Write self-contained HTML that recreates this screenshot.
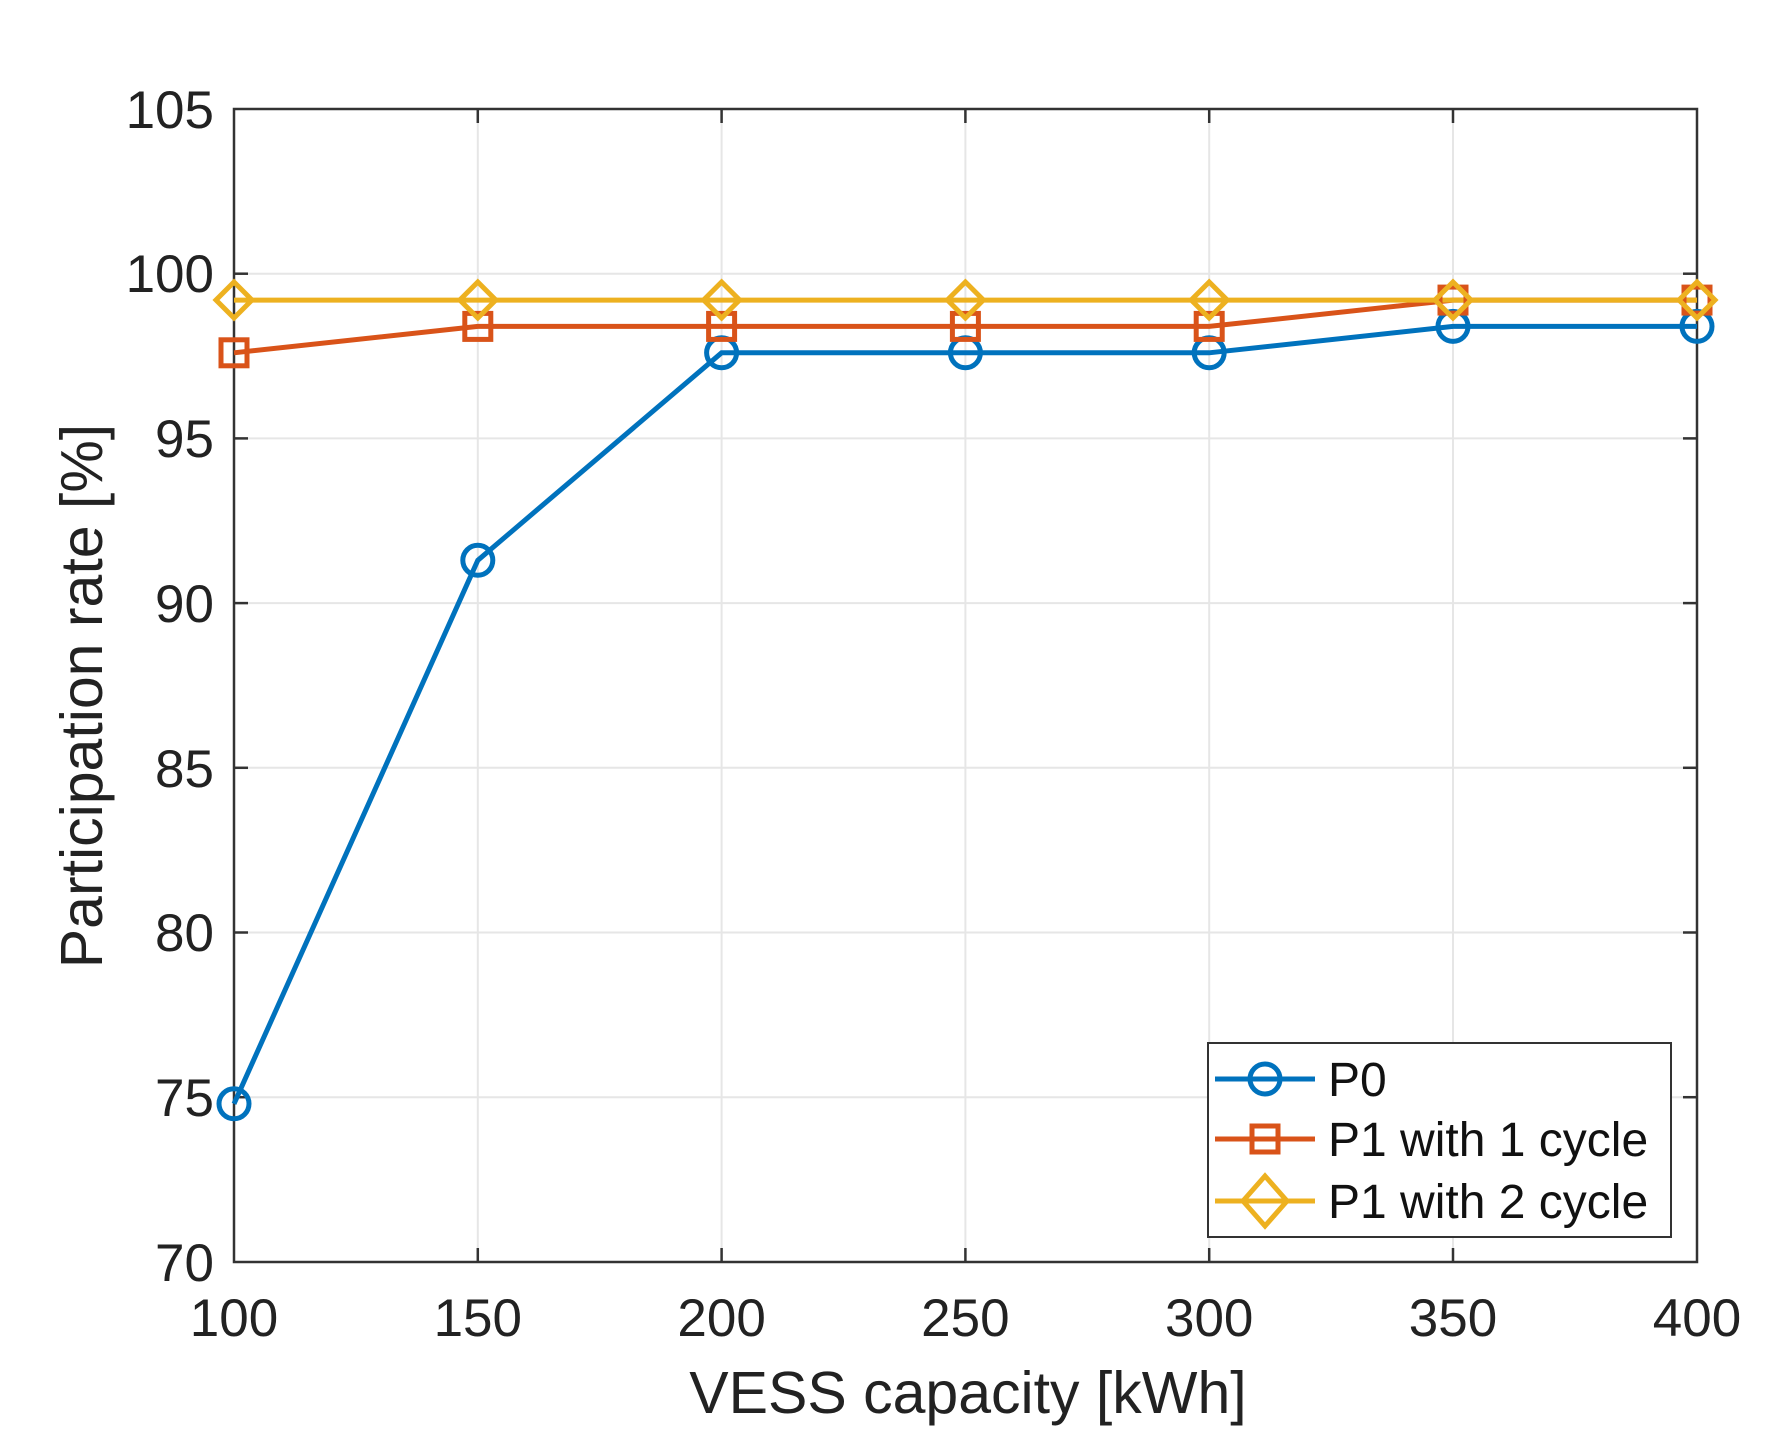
<!DOCTYPE html>
<html><head><meta charset="utf-8"><style>html,body{margin:0;padding:0;background:#fff}svg{display:block}</style></head>
<body>
<svg width="1780" height="1452" viewBox="0 0 1780 1452" xmlns="http://www.w3.org/2000/svg" font-family="Liberation Sans, Arial, sans-serif">
<rect width="1780" height="1452" fill="#fff"/>
<g stroke="#e6e6e6" stroke-width="2">
<line x1="477.8" y1="109" x2="477.8" y2="1262"/><line x1="721.6" y1="109" x2="721.6" y2="1262"/><line x1="965.4" y1="109" x2="965.4" y2="1262"/><line x1="1209.2" y1="109" x2="1209.2" y2="1262"/><line x1="1453" y1="109" x2="1453" y2="1262"/>
<line x1="234" y1="273.7" x2="1697" y2="273.7"/><line x1="234" y1="438.4" x2="1697" y2="438.4"/><line x1="234" y1="603.1" x2="1697" y2="603.1"/><line x1="234" y1="767.8" x2="1697" y2="767.8"/><line x1="234" y1="932.5" x2="1697" y2="932.5"/><line x1="234" y1="1097.2" x2="1697" y2="1097.2"/>
</g>
<rect x="234" y="109" width="1463" height="1153" fill="none" stroke="#333" stroke-width="2.5"/>
<g stroke="#333" stroke-width="2.5">
<line x1="234" y1="273.7" x2="248" y2="273.7"/><line x1="234" y1="438.4" x2="248" y2="438.4"/><line x1="234" y1="603.1" x2="248" y2="603.1"/><line x1="234" y1="767.8" x2="248" y2="767.8"/><line x1="234" y1="932.5" x2="248" y2="932.5"/><line x1="234" y1="1097.2" x2="248" y2="1097.2"/>
<line x1="1697" y1="273.7" x2="1683" y2="273.7"/><line x1="1697" y1="438.4" x2="1683" y2="438.4"/><line x1="1697" y1="603.1" x2="1683" y2="603.1"/><line x1="1697" y1="767.8" x2="1683" y2="767.8"/><line x1="1697" y1="932.5" x2="1683" y2="932.5"/><line x1="1697" y1="1097.2" x2="1683" y2="1097.2"/>
<line x1="477.8" y1="1262" x2="477.8" y2="1248"/><line x1="721.6" y1="1262" x2="721.6" y2="1248"/><line x1="965.4" y1="1262" x2="965.4" y2="1248"/><line x1="1209.2" y1="1262" x2="1209.2" y2="1248"/><line x1="1453" y1="1262" x2="1453" y2="1248"/>
<line x1="477.8" y1="109" x2="477.8" y2="123"/><line x1="721.6" y1="109" x2="721.6" y2="123"/><line x1="965.4" y1="109" x2="965.4" y2="123"/><line x1="1209.2" y1="109" x2="1209.2" y2="123"/><line x1="1453" y1="109" x2="1453" y2="123"/>
</g>
<g font-size="53" fill="#222" text-anchor="end">
<text x="214" y="128">105</text><text x="214" y="292">100</text><text x="214" y="457">95</text><text x="214" y="622">90</text><text x="214" y="787">85</text><text x="214" y="951">80</text><text x="214" y="1116">75</text><text x="214" y="1281">70</text>
</g>
<g font-size="53" fill="#222" text-anchor="middle">
<text x="234" y="1336">100</text><text x="477.8" y="1336">150</text><text x="721.6" y="1336">200</text><text x="965.4" y="1336">250</text><text x="1209.2" y="1336">300</text><text x="1453" y="1336">350</text><text x="1697" y="1336">400</text>
</g>
<text x="968" y="1413" font-size="59" fill="#222" text-anchor="middle">VESS capacity [kWh]</text>
<text transform="translate(102,696) rotate(-90)" font-size="59" fill="#222" text-anchor="middle">Participation rate [%]</text>
<g fill="none" stroke-width="5">
<polyline stroke="#0072bd" points="234,1103.8 477.8,560.3 721.6,352.8 965.4,352.8 1209.2,352.8 1453,326.4 1697,326.4"/>
<polyline stroke="#d95319" points="234,352.8 477.8,326.4 721.6,326.4 965.4,326.4 1209.2,326.4 1453,300.1 1697,300.1"/>
<polyline stroke="#edb120" points="234,300.1 477.8,300.1 721.6,300.1 965.4,300.1 1209.2,300.1 1453,300.1 1697,300.1"/>
<g stroke="#0072bd">
<circle cx="234" cy="1103.8" r="15"/><circle cx="477.8" cy="560.3" r="15"/><circle cx="721.6" cy="352.8" r="15"/><circle cx="965.4" cy="352.8" r="15"/><circle cx="1209.2" cy="352.8" r="15"/><circle cx="1453" cy="326.4" r="15"/><circle cx="1697" cy="326.4" r="15"/>
</g>
<g stroke="#d95319">
<rect x="221" y="339.8" width="26" height="26"/><rect x="464.8" y="313.4" width="26" height="26"/><rect x="708.6" y="313.4" width="26" height="26"/><rect x="952.4" y="313.4" width="26" height="26"/><rect x="1196.2" y="313.4" width="26" height="26"/><rect x="1440" y="287.1" width="26" height="26"/><rect x="1684" y="287.1" width="26" height="26"/>
</g>
<g stroke="#edb120">
<path d="M234 282 l18 18 l-18 18 l-18 -18z"/><path d="M477.8 282 l18 18 l-18 18 l-18 -18z"/><path d="M721.6 282 l18 18 l-18 18 l-18 -18z"/><path d="M965.4 282 l18 18 l-18 18 l-18 -18z"/><path d="M1209.2 282 l18 18 l-18 18 l-18 -18z"/><path d="M1453 282 l18 18 l-18 18 l-18 -18z"/><path d="M1697 282 l18 18 l-18 18 l-18 -18z"/>
</g>
</g>
<rect x="1208" y="1043" width="463" height="194" fill="#fff" stroke="#333" stroke-width="2"/>
<g fill="none" stroke-width="5">
<line x1="1215" y1="1079" x2="1315" y2="1079" stroke="#0072bd"/><circle cx="1265" cy="1079" r="15" stroke="#0072bd"/>
<line x1="1215" y1="1139" x2="1315" y2="1139" stroke="#d95319"/><rect x="1252" y="1126" width="26" height="26" stroke="#d95319"/>
<line x1="1215" y1="1201" x2="1315" y2="1201" stroke="#edb120"/><path d="M1265 1176 l22 25 l-22 25 l-22 -25z" stroke="#edb120"/>
</g>
<g font-size="48" fill="#111">
<text x="1328" y="1096">P0</text><text x="1328" y="1156">P1 with 1 cycle</text><text x="1328" y="1218">P1 with 2 cycle</text>
</g>
</svg>
</body></html>
